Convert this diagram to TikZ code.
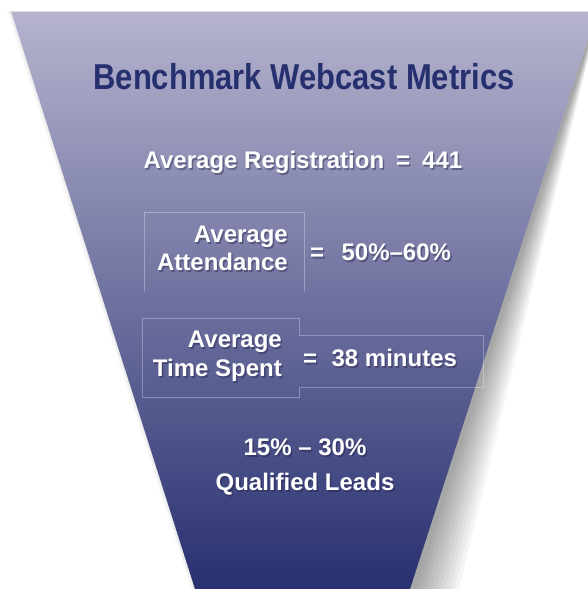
\documentclass[tikz,border=0pt]{standalone}
\usepackage{fontspec}
\setmainfont{Liberation Sans}
\newfontfamily\titlefont[FakeStretch=0.86]{Liberation Sans}
\usetikzlibrary{positioning}
\definecolor{funneltop}{HTML}{B5B3CE}
\definecolor{funnelmid}{HTML}{7570A6}
\definecolor{funnelbot}{HTML}{283070}
\definecolor{titleblue}{HTML}{27306F}
\definecolor{shadowcol}{HTML}{1E1C40}
\pgfdeclarelayer{funnellayer}
\pgfdeclarelayer{shadelayer}
\pgfsetlayers{funnellayer,shadelayer,main}
\tikzset{
    metric/.style={text=white,font=\fontsize{24}{29}\selectfont\bfseries,inner sep=0pt},
    metricshade/.style={text=shadowcol,text opacity=0.4},
    heading/.style={text=titleblue,font=\titlefont\fontsize{36}{40}\selectfont\bfseries,inner sep=0pt},
    metricbox/.style={draw=white,draw opacity=0.3,line width=0.6pt},
    funnelshadow/.style={fill=black,opacity=0.04},
}
\newcommand\funnelpath{(11,11) -- (597,11) -- (410,589) -- (195,589) -- cycle}
\newcommand\metric[3]{%
    \node [metric,#2] (#1) {#3};
    \begin{pgfonlayer}{shadelayer}
        \node [metric,#2,metricshade,xshift=1.5pt,yshift=-2pt] {#3};
    \end{pgfonlayer}}
\begin{document}
\begin{tikzpicture}[x=1pt,y=-1pt]
    \useasboundingbox (0,0) rectangle (587,589);
    \begin{pgfonlayer}{funnellayer}
        \fill [white] (0,0) rectangle (587,589);
        % soft shadow, wider towards the bottom
        \foreach \k in {1,...,10}
            \path [funnelshadow,xslant=-0.008*\k,shift={(2,0)}] \funnelpath;
        \foreach \k in {1,...,4}
            \path [funnelshadow,opacity=0.02,shift={(-\k,0)}] \funnelpath;
        \shade [top color=funneltop,middle color=funnelmid,bottom color=funnelbot] \funnelpath;
        \draw [gray!25,line width=0.8pt] (11,11) -- (597,11);
    \end{pgfonlayer}

    \node [heading,anchor=base] (title) at (304,89) {Benchmark Webcast Metrics};

    \metric{regline}{anchor=base,at={(303,168)}}{Average Registration\enspace=\enspace441}

    \draw [metricbox] (144,292) -- (144,212) -- (304,212) -- (304,292);
    \metric{attA}{anchor=base east,at={(288,242)}}{Average}
    \metric{attB}{anchor=base east,at={(288,270)}}{Attendance}
    \metric{attEq}{anchor=base west,at={(310,260)}}{=}
    \metric{attVal}{base right=17pt of attEq}{50\%--60\%}

    \draw [metricbox] (142,318) -- (299,318) -- (299,335) -- (483,335)
        -- (483,387) -- (299,387) -- (299,397) -- (142,397) -- cycle;
    \metric{timeA}{anchor=base east,at={(282,347)}}{Average}
    \metric{timeB}{anchor=base east,at={(282,376)}}{Time Spent}
    \metric{timeEq}{anchor=base west,at={(303,366)}}{=}
    \metric{timeVal}{base right=14pt of timeEq}{38 minutes}

    \metric{leadA}{anchor=base,at={(305,455)}}{15\% -- 30\%}
    \metric{leadB}{anchor=base,at={(305,490)}}{Qualified Leads}
\end{tikzpicture}
\end{document}
